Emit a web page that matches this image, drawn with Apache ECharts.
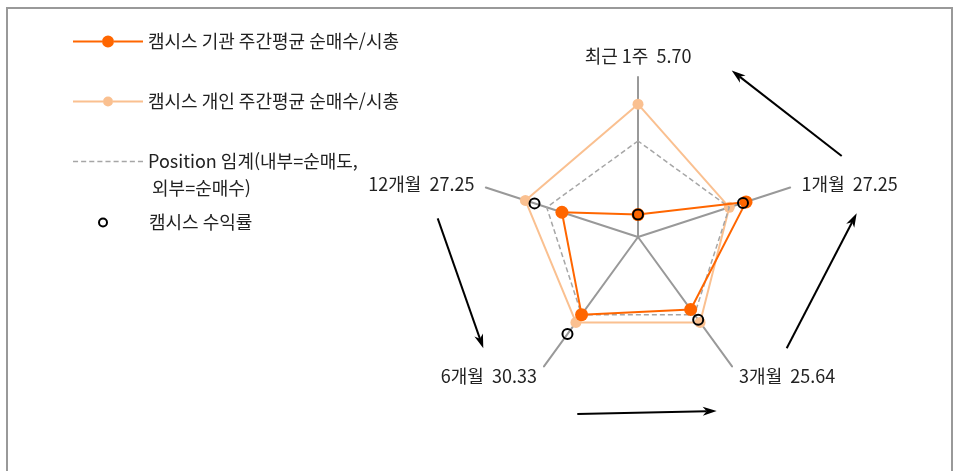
<!DOCTYPE html>
<html lang="ko">
<head>
<meta charset="utf-8">
<title>캠시스 수급 레이더</title>
<script src="https://cdn.jsdelivr.net/npm/echarts@6/dist/echarts.min.js"></script>
<style>
  html, body { margin: 0; padding: 0; background: #fff; }
  #chart { width: 954px; height: 471px; }
</style>
</head>
<body>
<div id="chart"></div>
<script>
// periods in natural order (top, then clockwise in the picture)
const periods = ['최근 1주', '1개월', '3개월', '6개월', '12개월']
const returns = ['5.70', '27.25', '25.64', '30.33', '27.25']

// values as share of the axis (0-100)
const institution = [14, 71, 56, 60, 50]
const individual = [83, 60, 66, 66, 74]
const threshold = [60, 60, 60, 60, 60]
const campusReturn = [14, 69, 64, 75, 68]

const seriesNames = [
  '캠시스 기관 주간평균 순매수/시총',
  '캠시스 개인 주간평균 순매수/시총',
  'Position 임계(내부=순매도,\n 외부=순매수)',
  '캠시스 수익률'
]

// echarts radar runs counter-clockwise, the picture runs clockwise
const order = [0, 4, 3, 2, 1]
const reorder = arr => order.map(i => arr[i])

const FONT = '"Noto Sans CJK KR", "Noto Sans", sans-serif'
const FONT_SIZE = 18
const DARK = '#FF6600'
const LIGHT = '#FAC090'
const GRAY = '#A6A6A6'

function lineDotPath(w, r, t) {
  const y0 = r - t / 2
  const y1 = r + t / 2
  const c0 = w / 2 - r
  const c1 = w / 2 + r
  return 'path://' +
    `M0,${y0} L${c0},${y0} L${c0},${y1} L0,${y1} Z ` +
    `M${c1},${y0} L${w},${y0} L${w},${y1} L${c1},${y1} Z ` +
    `M${c0},${r} A${r},${r} 0 1 1 ${c1},${r} A${r},${r} 0 1 1 ${c0},${r} Z`
}

function dashPath(count, dash, gap, t) {
  let d = ''
  for (let i = 0; i < count; i++) {
    const x = i * (dash + gap)
    d += `M${x},0 L${x + dash},0 L${x + dash},${t} L${x},${t} Z `
  }
  return 'path://' + d
}

function arrow(x1, y1, x2, y2) {
  const len = Math.hypot(x2 - x1, y2 - y1)
  const ux = (x2 - x1) / len
  const uy = (y2 - y1) / len
  const nx = -uy
  const ny = ux
  const L = 14, W = 4.5, notch = 10
  const bx = x2 - ux * L
  const by = y2 - uy * L
  const mx = x2 - ux * notch
  const my = y2 - uy * notch
  return {
    type: 'group',
    children: [
      {
        type: 'line',
        shape: { x1, y1, x2: mx, y2: my },
        style: { stroke: '#000', lineWidth: 2 }
      },
      {
        type: 'polygon',
        shape: {
          points: [[x2, y2], [bx + nx * W, by + ny * W], [mx, my], [bx - nx * W, by - ny * W]]
        },
        style: { fill: '#000' }
      }
    ]
  }
}

const legendText = { fontSize: FONT_SIZE, lineHeight: 27, color: '#222', fontFamily: FONT }

function legendFor(top, extra) {
  return Object.assign({
    orient: 'vertical',
    left: 73,
    top,
    padding: 0,
    itemWidth: 70,
    itemHeight: 12,
    selectedMode: false,
    itemStyle: { borderWidth: 0 },
    textStyle: legendText
  }, extra)
}

const chart = echarts.init(document.getElementById('chart'), null, { renderer: 'canvas' })

chart.setOption({
  animation: false,
  backgroundColor: '#fff',
  legend: [
    legendFor(28, {
      data: [{ name: seriesNames[0], icon: lineDotPath(70, 6, 2) }]
    }),
    legendFor(88, {
      data: [{ name: seriesNames[1], icon: lineDotPath(70, 5, 2) }]
    }),
    legendFor(121, {
      // blank first line keeps the icon level with "Position"
      formatter: name => '\n' + name,
      data: [{ name: seriesNames[2], icon: dashPath(9, 5, 3, 1.5) }]
    }),
    legendFor(209, {
      left: 98,
      itemWidth: 82,
      itemHeight: 8,
      data: [{ name: seriesNames[3], icon: 'circle' }],
      itemStyle: { color: 'rgba(0,0,0,0)', borderColor: '#000', borderWidth: 2 }
    })
  ],
  graphic: [
    {
      type: 'rect',
      shape: { x: 7, y: 8, width: 945, height: 520 },
      style: { fill: 'none', stroke: '#999', lineWidth: 2 },
      silent: true
    },
    arrow(841.7, 156, 731.7, 70.5),
    arrow(786.7, 348.3, 856.7, 213.3),
    arrow(577.3, 414, 716.7, 411),
    arrow(437.7, 218.3, 483.3, 348.3)
  ],
  radar: {
    center: [638, 237],
    radius: 160,
    startAngle: 90,
    shape: 'polygon',
    splitNumber: 1,
    nameGap: 12,
    indicator: reorder(periods.map((p, i) => ({ name: p + '  ' + returns[i], min: 0, max: 100 }))),
    axisName: { color: '#222', fontSize: FONT_SIZE, fontFamily: FONT },
    axisLine: { lineStyle: { color: '#999', width: 2 } },
    splitLine: { show: false },
    splitArea: { show: false },
    axisTick: { show: false },
    axisLabel: { show: false }
  },
  series: [
    {
      type: 'radar',
      name: seriesNames[1],
      z: 2,
      symbol: 'circle',
      symbolSize: 11,
      lineStyle: { color: LIGHT, width: 2 },
      itemStyle: { color: LIGHT },
      emphasis: { disabled: true },
      data: [{ value: reorder(individual), name: seriesNames[1] }]
    },
    {
      type: 'radar',
      name: seriesNames[2],
      z: 3,
      symbol: 'none',
      lineStyle: { color: GRAY, width: 1.5, type: [5, 3] },
      itemStyle: { color: GRAY },
      emphasis: { disabled: true },
      data: [{ value: reorder(threshold), name: seriesNames[2] }]
    },
    {
      type: 'radar',
      name: seriesNames[0],
      z: 4,
      symbol: 'circle',
      symbolSize: 13,
      lineStyle: { color: DARK, width: 2 },
      itemStyle: { color: DARK },
      emphasis: { disabled: true },
      data: [{ value: reorder(institution), name: seriesNames[0] }]
    },
    {
      type: 'radar',
      name: seriesNames[3],
      z: 5,
      symbol: 'circle',
      symbolSize: 10,
      lineStyle: { width: 0, opacity: 0 },
      itemStyle: { color: 'rgba(0,0,0,0)', borderColor: '#000', borderWidth: 2 },
      emphasis: { disabled: true },
      data: [{ value: reorder(campusReturn), name: seriesNames[3] }]
    }
  ]
})

window.addEventListener('resize', () => chart.resize())
</script>
</body>
</html>
